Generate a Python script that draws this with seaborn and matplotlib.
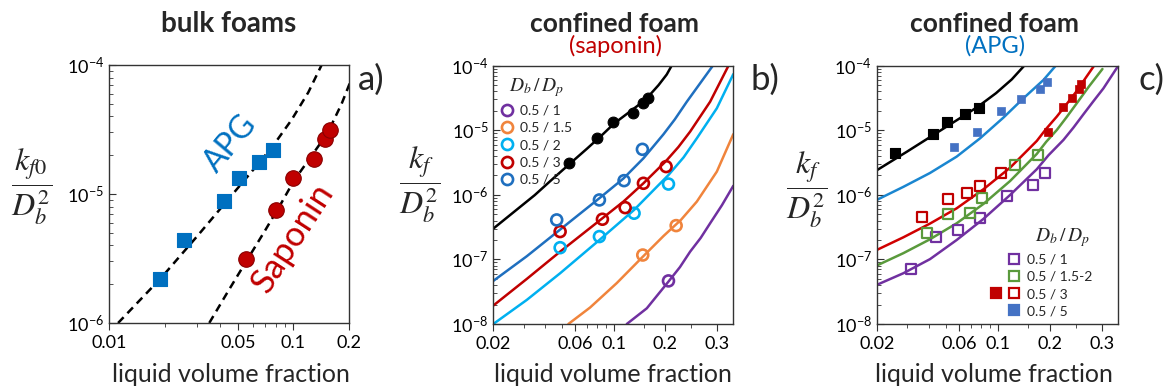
import numpy as np
import pandas as pd
import matplotlib
matplotlib.use("Agg")
import matplotlib.pyplot as plt
import seaborn as sns
from matplotlib.lines import Line2D
from matplotlib.legend_handler import HandlerTuple
from matplotlib.ticker import FixedLocator, NullFormatter, LogLocator

# ---------------- data ----------------
# bulk foams (panel a, reused as black symbols/curves in b and c)
apg_bulk_phi = [0.0189, 0.0255, 0.0420, 0.0507, 0.0650, 0.0774]
apg_bulk_k = [2.19e-6, 4.4e-6, 8.8e-6, 1.33e-5, 1.77e-5, 2.19e-5]
sap_bulk_phi = [0.0553, 0.0804, 0.0998, 0.1297, 0.1476, 0.1583]
sap_bulk_k = [3.13e-6, 7.5e-6, 1.34e-5, 1.87e-5, 2.67e-5, 3.13e-5]

apg_fit_phi = [0.0112, 0.0189, 0.02, 0.03, 0.042, 0.0648, 0.0771, 0.0977, 0.1203, 0.1421]
apg_fit_k = [1.0e-6, 2.19e-6, 2.4e-6, 4.69e-6, 8.3e-6, 1.73e-5, 2.34e-5, 3.76e-5, 6.13e-5, 1.0e-4]
sap_fit_phi = [0.02, 0.0348, 0.0443, 0.0558, 0.0701, 0.0863, 0.1006, 0.1203, 0.1421,
               0.161, 0.1824, 0.2025, 0.212]
sap_fit_k = [3.0e-7, 9.9e-7, 1.77e-6, 3.05e-6, 5.2e-6, 8.6e-6, 1.27e-5, 1.82e-5, 2.55e-5,
             3.45e-5, 5.0e-5, 7.3e-5, 1.0e-4]

# confined foam, saponin (panel b)
b_labels = ["0.5 / 1", "0.5 / 1.5", "0.5 / 2", "0.5 / 3", "0.5 / 5"]
b_pts_phi = {
    "0.5 / 1": [0.2059],
    "0.5 / 1.5": [0.1477, 0.2207],
    "0.5 / 2": [0.0489, 0.0827, 0.1315, 0.2059],
    "0.5 / 3": [0.0489, 0.0861, 0.1167, 0.149, 0.2013],
    "0.5 / 5": [0.0467, 0.0827, 0.115, 0.147],
}
b_pts_k = {
    "0.5 / 1": [4.65e-8],
    "0.5 / 1.5": [1.17e-7, 3.34e-7],
    "0.5 / 2": [1.52e-7, 2.26e-7, 5.19e-7, 1.47e-6],
    "0.5 / 3": [2.70e-7, 4.19e-7, 6.34e-7, 1.51e-6, 2.74e-6],
    "0.5 / 5": [4.09e-7, 8.34e-7, 1.66e-6, 5.07e-6],
}
b_fit_phi = {
    "0.5 / 1": [0.1193, 0.1559, 0.2059, 0.2280, 0.2477, 0.2680, 0.2863, 0.3090, 0.331],
    "0.5 / 1.5": [0.0546, 0.073, 0.1043, 0.1477, 0.1948, 0.2300, 0.2606, 0.2992, 0.331],
    "0.5 / 2": [0.02, 0.0313, 0.0489, 0.0827, 0.1315, 0.2059, 0.2350, 0.2606, 0.2992, 0.331],
    "0.5 / 3": [0.02, 0.0313, 0.0489, 0.0861, 0.114, 0.149, 0.2013, 0.2250, 0.2477, 0.2863, 0.3217],
    "0.5 / 5": [0.02, 0.0313, 0.0489, 0.0835, 0.114, 0.149, 0.1948, 0.2180, 0.2413, 0.2915],
}
b_fit_k = {
    "0.5 / 1": [1.0e-8, 1.75e-8, 4.54e-8, 7.6e-8, 1.32e-7, 2.15e-7, 3.63e-7, 6.9e-7, 1.38e-6],
    "0.5 / 1.5": [1.0e-8, 1.8e-8, 4.3e-8, 1.1e-7, 2.3e-7, 4.1e-7, 7.86e-7, 2.29e-6, 8.7e-6],
    "0.5 / 2": [1.0e-8, 2.36e-8, 6.11e-8, 2.0e-7, 5.84e-7, 2.03e-6, 3.8e-6, 7.51e-6, 2.19e-5, 7.4e-5],
    "0.5 / 3": [1.93e-8, 4.99e-8, 1.32e-7, 4.34e-7, 7.86e-7, 1.51e-6, 3.35e-6, 5.5e-6, 9.53e-6,
                2.77e-5, 1.0e-4],
    "0.5 / 5": [4.65e-8, 1.12e-7, 2.9e-7, 9.06e-7, 1.79e-6, 3.68e-6, 8.66e-6, 1.47e-5, 2.77e-5, 1.0e-4],
}
b_colors = {"0.5 / 1": "#7030a0", "0.5 / 1.5": "#f0843c", "0.5 / 2": "#00b0f0",
            "0.5 / 3": "#c00000", "0.5 / 5": "#1f6fbf"}

# confined foam, APG (panel c)
c_labels = ["0.5 / 1", "0.5 / 1.5-2", "0.5 / 3", "0.5 / 5"]
c_open_phi = {
    "0.5 / 1": [0.0314, 0.044, 0.0592, 0.079, 0.1126, 0.1605, 0.1875],
    "0.5 / 1.5-2": [0.0389, 0.0519, 0.0692, 0.0815, 0.1258, 0.1716],
    "0.5 / 3": [0.0367, 0.0519, 0.0662, 0.079, 0.1045],
}
c_open_k = {
    "0.5 / 1": [7.05e-8, 2.26e-7, 2.86e-7, 4.34e-7, 9.73e-7, 1.42e-6, 2.16e-6],
    "0.5 / 1.5-2": [2.60e-7, 5.0e-7, 5.19e-7, 9.06e-7, 2.9e-6, 4.15e-6],
    "0.5 / 3": [4.50e-7, 8.64e-7, 1.08e-6, 1.37e-6, 2.16e-6],
}
c_filled_phi = {
    "0.5 / 3": [0.1959, 0.2258, 0.2431, 0.2565, 0.2597],
    "0.5 / 5": [0.0559, 0.0756, 0.104, 0.1357, 0.1754, 0.1934],
}
c_filled_k = {
    "0.5 / 3": [9.53e-6, 2.32e-5, 3.2e-5, 4.36e-5, 5.21e-5],
    "0.5 / 5": [5.58e-6, 9.53e-6, 2.01e-5, 3.05e-5, 4.36e-5, 5.66e-5],
}
c_fit_phi = {
    "0.5 / 1": [0.02, 0.0285, 0.0406, 0.0579, 0.0826, 0.1178, 0.1678, 0.1960, 0.2258, 0.2450,
                0.2642, 0.2830, 0.3025, 0.331],
    "0.5 / 1.5-2": [0.02, 0.0285, 0.0406, 0.0579, 0.0826, 0.1178, 0.1678, 0.1900, 0.2131, 0.2320,
                    0.2514, 0.2750, 0.3006],
    "0.5 / 3": [0.02, 0.0285, 0.0406, 0.0579, 0.0826, 0.1178, 0.1678, 0.1900, 0.2131, 0.2320,
                0.2514, 0.2680, 0.2846],
    "0.5 / 5": [0.02, 0.0285, 0.0406, 0.0579, 0.079, 0.1077, 0.1406, 0.1834, 0.2111],
}
c_fit_k = {
    "0.5 / 1": [4.03e-8, 6.11e-8, 1.01e-7, 2.0e-7, 4.24e-7, 9.97e-7, 2.49e-6, 4.1e-6, 7.08e-6, 1.1e-5,
                1.77e-5, 2.8e-5, 4.46e-5, 1.0e-4],
    "0.5 / 1.5-2": [8.03e-8, 1.25e-7, 2.05e-7, 3.63e-7, 7.23e-7, 1.64e-6, 4.3e-6, 6.6e-6, 1.01e-5,
                    1.6e-5, 2.62e-5, 4.8e-5, 8.89e-5],
    "0.5 / 3": [1.40e-7, 2.20e-7, 3.59e-7, 6.19e-7, 1.22e-6, 2.64e-6, 6.83e-6, 1.05e-5, 1.63e-5,
                2.55e-5, 4.06e-5, 6.4e-5, 1.0e-4],
    "0.5 / 5": [8.34e-7, 1.33e-6, 2.18e-6, 3.91e-6, 7.51e-6, 1.57e-5, 3.13e-5, 6.01e-5, 1.0e-4],
}
c_line_colors = {"0.5 / 1": "#7030a0", "0.5 / 1.5-2": "#5a9a3c", "0.5 / 3": "#d00000",
                 "0.5 / 5": "#1a86d0"}
c_marker_colors = {"0.5 / 1": "#7030a0", "0.5 / 1.5-2": "#5a9a3c", "0.5 / 3": "#c00000",
                   "0.5 / 5": "#4472c4"}

a_xticks = [0.01, 0.05, 0.1, 0.2]
a_xticklabels = ["0.01", "0.05", "0.1", "0.2"]
bc_xticks = [0.02, 0.06, 0.1, 0.2, 0.3]
bc_xticklabels = ["0.02", "0.06", "0.1", "0.2", "0.3"]
bc_xminor = [0.03, 0.04, 0.05, 0.07, 0.08, 0.09, 0.15, 0.25]

# ---------------- style ----------------
sns.set_style("ticks")
plt.rcParams["font.family"] = ["Lato", "DejaVu Sans"]
plt.rcParams["mathtext.fontset"] = "stix"

W, H = 1169, 392
fig = plt.figure(figsize=(W / 100, H / 100), dpi=100)


def px_axes(left, top, right, bottom):
    return fig.add_axes([left / W, 1 - bottom / H, (right - left) / W, (bottom - top) / H])


ax_a = px_axes(109, 65, 349, 323)
ax_b = px_axes(493.3, 65.7, 733.3, 324)
ax_c = px_axes(876.7, 65.7, 1118.3, 324)

# x axis of b and c: log up to 0.2, stretched above (as labelled in the original)
LOG02 = np.log10(0.2)
STRETCH = 3.0103


def fwd(x):
    x = np.asarray(x, dtype=float)
    return np.where(x <= 0.2, np.log10(np.clip(x, 1e-9, None)), LOG02 + (x - 0.2) * STRETCH)


def inv(y):
    y = np.asarray(y, dtype=float)
    return np.where(y <= LOG02, 10.0 ** np.clip(y, -20, 5), 0.2 + (y - LOG02) / STRETCH)


def dec_label(v):
    return r"$\mathregular{10^{%d}}$" % int(round(np.log10(v)))


def style(ax, yticks):
    ax.set_yscale("log")
    ax.set_yticks(yticks, labels=[dec_label(v) for v in yticks])
    ax.yaxis.set_minor_locator(LogLocator(base=10, subs=np.arange(2, 10), numticks=20))
    ax.yaxis.set_minor_formatter(NullFormatter())
    for sp in ax.spines.values():
        sp.set_color("#333333")
        sp.set_linewidth(1.0)
    ax.tick_params(axis="both", which="both", colors="#333333", labelcolor="black", labelsize=13)
    ax.tick_params(axis="y", which="major", direction="in", length=5)
    ax.tick_params(axis="y", which="minor", direction="in", length=3)
    ax.tick_params(axis="x", which="major", direction="out", length=5)
    ax.tick_params(axis="x", which="minor", direction="out", length=3)
    ax.set_xlabel("")
    ax.set_ylabel("")


def curve(ax, x, y, color, ls="-", lw=1.8):
    sns.lineplot(x=x, y=y, ax=ax, color=color, linestyle=ls, linewidth=lw,
                 sort=False, estimator=None, legend=False)


def dots(ax, x, y, marker, s, face, edge, lw=0.8):
    sns.scatterplot(x=x, y=y, ax=ax, marker=marker, s=s, color=edge, facecolor=face,
                    edgecolor=edge, linewidth=lw, zorder=3, legend=False)


# ---------------- panel a ----------------
ax_a.set_xscale("log")
curve(ax_a, apg_fit_phi, apg_fit_k, "black", ls=(0, (3.2, 2.2)), lw=1.8)
curve(ax_a, sap_fit_phi, sap_fit_k, "black", ls=(0, (3.2, 2.2)), lw=1.8)
dots(ax_a, apg_bulk_phi, apg_bulk_k, "s", 115, "#0070c0", "#0070c0")
dots(ax_a, sap_bulk_phi, sap_bulk_k, "o", 125, "#c00000", "#8a0000")
style(ax_a, [1e-6, 1e-5, 1e-4])
ax_a.set_xticks(a_xticks, labels=a_xticklabels)
ax_a.xaxis.set_minor_locator(LogLocator(base=10, subs=np.arange(2, 10), numticks=20))
ax_a.xaxis.set_minor_formatter(NullFormatter())
ax_a.set_xlim(0.01, 0.2)
ax_a.set_ylim(1e-6, 1e-4)

# ---------------- panel b ----------------
ax_b.set_xscale("function", functions=(fwd, inv))
curve(ax_b, sap_fit_phi, sap_fit_k, "black")
for lab in b_labels:
    curve(ax_b, b_fit_phi[lab], b_fit_k[lab], b_colors[lab])
dots(ax_b, sap_bulk_phi, sap_bulk_k, "o", 60, "black", "black")
for lab in b_labels:
    dots(ax_b, b_pts_phi[lab], b_pts_k[lab], "o", 62, "none", b_colors[lab], lw=1.9)
style(ax_b, [1e-8, 1e-7, 1e-6, 1e-5, 1e-4])

# ---------------- panel c ----------------
ax_c.set_xscale("function", functions=(fwd, inv))
curve(ax_c, apg_fit_phi, apg_fit_k, "black")
for lab in c_labels:
    curve(ax_c, c_fit_phi[lab], c_fit_k[lab], c_line_colors[lab])
apg_df = pd.DataFrame({"phi": apg_bulk_phi, "k": apg_bulk_k})
apg_in = apg_df[apg_df["phi"] >= 0.02]
dots(ax_c, apg_in["phi"], apg_in["k"], "s", 55, "black", "black")
for lab, vals in c_filled_phi.items():
    dots(ax_c, vals, c_filled_k[lab], "s", 40, c_marker_colors[lab], c_marker_colors[lab], lw=0.5)
for lab, vals in c_open_phi.items():
    dots(ax_c, vals, c_open_k[lab], "s", 52, "none", c_marker_colors[lab], lw=1.6)
style(ax_c, [1e-8, 1e-7, 1e-6, 1e-5, 1e-4])

for ax in (ax_b, ax_c):
    ax.set_xticks(bc_xticks, labels=bc_xticklabels)
    ax.xaxis.set_minor_locator(FixedLocator(bc_xminor))
    ax.xaxis.set_minor_formatter(NullFormatter())
    ax.set_xlim(0.02, 0.331)
    ax.set_ylim(1e-8, 1e-4)

# ---------------- legends ----------------
b_handles = [Line2D([], [], ls="none", marker="o", ms=8, mfc="none", mec=b_colors[lab], mew=1.9)
             for lab in b_labels]
ax_b.legend(b_handles, b_labels, title=r"$D_b\,/\,D_p$", loc="upper left",
            bbox_to_anchor=(0.0, 0.985), frameon=False, fontsize=10, title_fontsize=14,
            handlelength=1.0, handletextpad=0.4, labelspacing=0.38, borderpad=0.3,
            borderaxespad=0.2)


def blank():
    return Line2D([], [], ls="none", marker="s", alpha=0)


def sq(color, filled):
    return Line2D([], [], ls="none", marker="s", ms=7.5,
                  mfc=color if filled else "none", mec=color, mew=1.6)


c_handles = [
    (blank(), sq(c_marker_colors["0.5 / 1"], False)),
    (blank(), sq(c_marker_colors["0.5 / 1.5-2"], False)),
    (sq(c_marker_colors["0.5 / 3"], True), sq(c_marker_colors["0.5 / 3"], False)),
    (blank(), sq(c_marker_colors["0.5 / 5"], True)),
]
ax_c.legend(c_handles, c_labels, handler_map={tuple: HandlerTuple(ndivide=None, pad=0.5)},
            loc="lower right", bbox_to_anchor=(0.905, 0.015),
            frameon=False, fontsize=10, handlelength=2.2,
            handletextpad=0.5, labelspacing=0.38, borderpad=0.2, borderaxespad=0)

# ---------------- texts ----------------
def ftext(x, y, s, **kw):
    fig.text(x / W, 1 - y / H, s, ha="center", va="center", **kw)


ftext(229, 24, "bulk foams", fontsize=20, fontweight="bold")
ftext(615, 24, "confined foam", fontsize=19, fontweight="bold")
ftext(615, 46, "(saponin)", fontsize=17, color="#c00000")
ftext(995, 24, "confined foam", fontsize=19, fontweight="bold")
ftext(995, 46, "(APG)", fontsize=17, color="#0070c0")

for xc in (231, 613, 994):
    ftext(xc, 374, "liquid volume fraction", fontsize=18)

ftext(32, 187, r"$\dfrac{k_{f0}}{D_b^2}$", fontsize=23)
ftext(420, 185, r"$\dfrac{k_f}{D_b^2}$", fontsize=23)
ftext(807, 190, r"$\dfrac{k_f}{D_b^2}$", fontsize=23)
ftext(1062, 238, r"$D_b\,/\,D_p$", fontsize=14)

ftext(371, 80, "a)", fontsize=25)
ftext(765, 80, "b)", fontsize=25)
ftext(1152, 80, "c)", fontsize=25)

ftext(231, 144, "APG", fontsize=23, color="#0070c0", rotation=50)
ftext(293, 238, "Saponin", fontsize=25, color="#c00000", rotation=57)

fig.savefig("out.png", dpi=100)
